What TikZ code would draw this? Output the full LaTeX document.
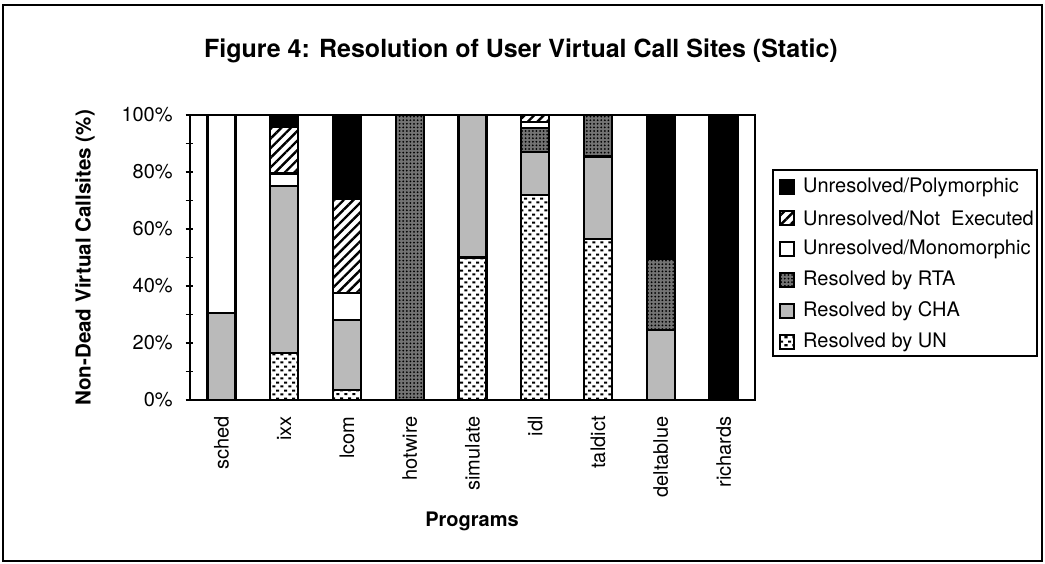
\documentclass[tikz,border=0pt]{standalone}
\usepackage{fontspec}
\setmainfont{TeX Gyre Heros}
\usetikzlibrary{patterns,patterns.meta,positioning}
\pgfdeclarepatternformonly{undash}{\pgfpointorigin}{\pgfqpoint{4pt}{4pt}}{\pgfqpoint{4pt}{4pt}}{%
  \pgfpathrectangle{\pgfqpoint{0.2pt}{0.4pt}}{\pgfqpoint{1.7pt}{1.1pt}}%
  \pgfpathrectangle{\pgfqpoint{2.2pt}{2.4pt}}{\pgfqpoint{1.7pt}{1.1pt}}%
  \pgfusepath{fill}}
\begin{document}
\begin{tikzpicture}[x=0.5pt,y=-0.5pt,
    seg/.style={draw=black,line width=1.2pt},
    poly/.style={seg,fill=black},
    notexec/.style={seg,preaction={fill=white},pattern={Lines[angle=45,distance=3.4pt,line width=1.2pt]}},
    mono/.style={seg,fill=white},
    rta/.style={seg,preaction={fill=black!55},pattern={Dots[distance=1.8pt,radius=0.5pt]}},
    cha/.style={seg,fill=black!27},
    un/.style={seg,preaction={fill=white},pattern=undash},
    prog/.style={rotate=90,anchor=east,inner sep=0pt},
    leg/.style={anchor=west,inner sep=0pt},
    swatch/.style={minimum size=7pt,inner sep=0pt,line width=0.8pt}]
  \useasboundingbox (0,0) rectangle (1045,563);
  \draw[line width=1pt] (3,5) rectangle (1042,561);
  \node[font=\fontsize{12.5}{15}\selectfont\bfseries,anchor=base] (title) at (521,57)
    {Figure 4: Resolution of User Virtual Call Sites (Static)};
  \node[rotate=90,font=\fontsize{10.3}{12}\selectfont\bfseries] (ylab) at (85,258)
    {Non-Dead Virtual Callsites (\%)};
  \node[font=\bfseries] (xlab) at (472,521) {Programs};
  % bars, one unit per program, percent upwards
  \begin{scope}[shift={(190,400)},x=31.39pt,y=1.425pt]
    \draw[line width=0.6pt] (0,0) rectangle (9,100);
    \foreach \p in {0,10,...,100} \draw[line width=0.6pt] (-0.07,\p) -- (0.05,\p);
    \foreach \p in {0,20,...,100} \node[anchor=east,inner sep=0pt] (y\p) at (-0.27,\p) {\p\%};
    \foreach \i/\lo/\hi in {2/0/16.5,3/0/3.5,5/0/50,6/0/72,7/0/56.5}
      \draw[un] (\i-0.723,\lo) rectangle (\i-0.277,\hi);
    \foreach \i/\lo/\hi in {1/0/30.5,2/16.5/75,3/3.5/28,5/50/100,6/72/87,7/56.5/85.5,8/0/24.5}
      \draw[cha] (\i-0.723,\lo) rectangle (\i-0.277,\hi);
    \foreach \i/\lo/\hi in {4/0/100,6/87/95.5,7/85.5/100,8/24.5/49.5}
      \draw[rta] (\i-0.723,\lo) rectangle (\i-0.277,\hi);
    \foreach \i/\lo/\hi in {1/30.5/100,2/75/79.5,3/28/37.5,6/95.5/97.5}
      \draw[mono] (\i-0.723,\lo) rectangle (\i-0.277,\hi);
    \foreach \i/\lo/\hi in {2/79.5/96,3/37.5/70.5,6/97.5/100}
      \draw[notexec] (\i-0.723,\lo) rectangle (\i-0.277,\hi);
    \foreach \i/\lo/\hi in {2/96/100,3/70.5/100,8/49.5/100,9/0/100}
      \draw[poly] (\i-0.723,\lo) rectangle (\i-0.277,\hi);
    \foreach \i/\n in {1/sched,2/ixx,3/lcom,4/hotwire,5/simulate,6/idl,7/taldict,8/deltablue,9/richards}
      \node[prog] (p\n) at (\i-0.5,-5.6) {\n};
  \end{scope}
  % legend
  \draw[line width=0.6pt] (773,170) rectangle (1037,356);
  \node[poly,swatch] (kpoly) at (787,187) {};
  \node[leg,right=4pt of kpoly] (lpoly) {Unresolved/Polymorphic};
  \node[notexec,swatch] (knotexec) at (787,218) {};
  \node[leg,right=4pt of knotexec] (lnotexec) {Unresolved/Not~ Executed};
  \node[mono,swatch] (kmono) at (787,249) {};
  \node[leg,right=4pt of kmono] (lmono) {Unresolved/Monomorphic};
  \node[rta,swatch] (krta) at (787,280) {};
  \node[leg,right=4pt of krta] (lrta) {Resolved by RTA};
  \node[cha,swatch] (kcha) at (787,311) {};
  \node[leg,right=4pt of kcha] (lcha) {Resolved by CHA};
  \node[un,swatch] (kun) at (787,342) {};
  \node[leg,right=4pt of kun] (lun) {Resolved by UN};
\end{tikzpicture}
\end{document}
